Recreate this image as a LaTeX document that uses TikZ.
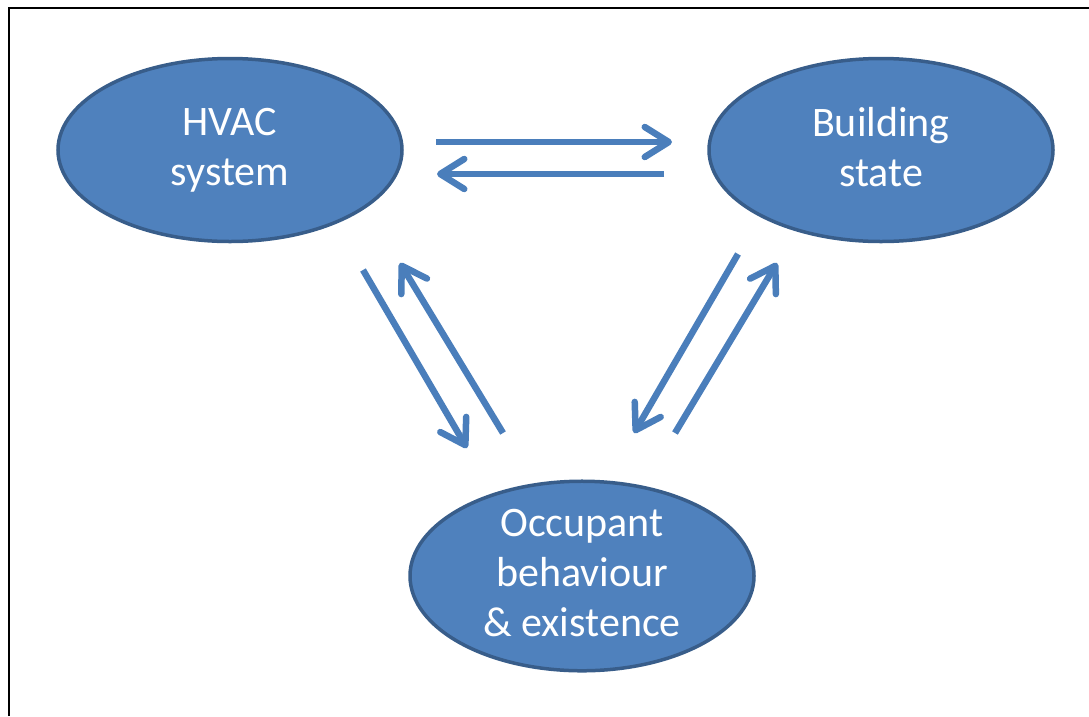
\documentclass[tikz,border=0pt]{standalone}
\usepackage{fontspec}
\setmainfont{Carlito}
\usetikzlibrary{arrows.meta,shapes.geometric}
\definecolor{blu}{HTML}{4F81BD}
\definecolor{bdr}{HTML}{385D8A}
\definecolor{arw}{HTML}{4A7EBB}

\begin{document}
\begin{tikzpicture}[x=1pt, y=-1pt,
  blob/.style={ellipse, draw=bdr, line width=3.5pt, fill=blu, text=white,
               minimum width=344pt, minimum height=183pt, inner sep=0pt,
               align=center, font=\fontsize{42}{50}\selectfont},
  arr/.style={arw, line width=6.5pt,
              -{Straight Barb[length=24pt, width=30pt, line cap=round, line join=round]}}
]
\useasboundingbox (0,0) rectangle (1089,716);
% frame
\draw[line width=2pt] (8.5,716) -- (8.5,7.5) -- (1089,7.5);

\node[blob] (hvac) at (230,150) {HVAC\\system};
\node[blob] (bld) at (881,150) {Building\\state\vphantom{y}};
\node[blob] (occ) at (582,576) {Occupant\\behaviour\\\& existence\vphantom{y}};

% arrow ends
\coordinate (hb1) at (436,142);  \coordinate (hb2) at (672,142);
\coordinate (bh1) at (664,174);  \coordinate (bh2) at (437,174);
\coordinate (ho1) at (363,270);  \coordinate (ho2) at (467,448);
\coordinate (oh1) at (503,433);  \coordinate (oh2) at (400,263);
\coordinate (bo1) at (738,254);  \coordinate (bo2) at (634,433);
\coordinate (ob1) at (675,433);  \coordinate (ob2) at (777,263);

\draw[arr] (hb1) -- (hb2);
\draw[arr] (bh1) -- (bh2);
\draw[arr] (ho1) -- (ho2);
\draw[arr] (oh1) -- (oh2);
\draw[arr] (bo1) -- (bo2);
\draw[arr] (ob1) -- (ob2);
\end{tikzpicture}
\end{document}
